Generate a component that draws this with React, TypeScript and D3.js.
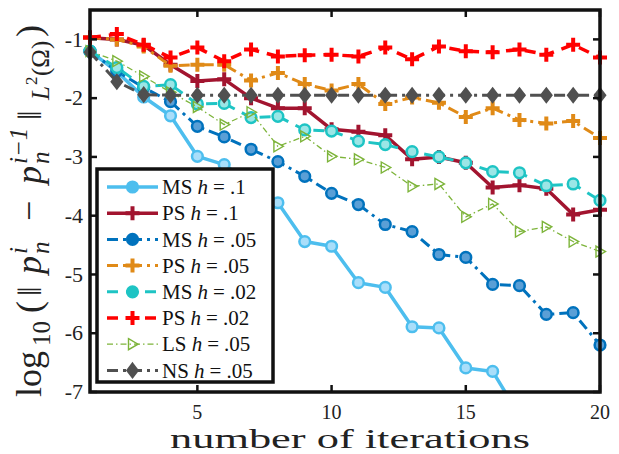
import { useRef, useEffect } from "react";
import * as d3 from "d3";

const iterations = [1, 2, 3, 4, 5, 6, 7, 8, 9, 10, 11, 12, 13, 14, 15, 16, 17, 18, 19, 20];

const msH1 = [-1.2, -1.55, -1.98, -2.3, -2.99, -3.13, -3.45, -3.78, -4.44, -4.52, -5.14, -5.22, -5.89, -5.91, -6.59, -6.65, -7.4];
const psH1 = [-0.97, -1.0, -1.1, -1.43, -1.71, -1.68, -2.0, -2.17, -2.17, -2.53, -2.57, -2.63, -3.04, -3.0, -3.1, -3.52, -3.48, -3.54, -3.98, -3.9];
const msH05 = [-1.2, -1.54, -1.82, -2.06, -2.48, -2.66, -2.87, -3.08, -3.33, -3.62, -3.81, -4.15, -4.27, -4.66, -4.71, -5.17, -5.19, -5.68, -5.65, -6.2];
const psH05 = [-0.97, -1.0, -1.12, -1.45, -1.43, -1.43, -1.7, -1.57, -1.76, -1.87, -1.76, -2.1, -1.99, -2.08, -2.32, -2.17, -2.37, -2.43, -2.39, -2.68];
const msH02 = [-1.2, -1.48, -1.8, -1.77, -2.1, -2.09, -2.33, -2.31, -2.54, -2.56, -2.73, -2.79, -2.91, -3.0, -3.1, -3.25, -3.27, -3.49, -3.46, -3.74];
const psH02 = [-0.97, -0.91, -1.09, -1.31, -1.14, -1.37, -1.17, -1.29, -1.27, -1.26, -1.29, -1.14, -1.34, -1.12, -1.2, -1.22, -1.17, -1.26, -1.09, -1.31];
const lsH05 = [-1.2, -1.37, -1.63, -1.9, -2.15, -2.45, -2.24, -2.82, -2.65, -2.99, -3.04, -3.18, -3.5, -3.46, -4.02, -3.8, -4.27, -4.19, -4.44, -4.61];
const nsH05 = [-1.22, -1.72, -1.94, -1.95, -1.95, -1.95, -1.95, -1.95, -1.95, -1.95, -1.95, -1.95, -1.95, -1.95, -1.95, -1.95, -1.95, -1.95, -1.95, -1.95];

const methodNames = ["MS", "PS", "MS", "PS", "MS", "PS", "LS", "NS"];
const stepSizes = [".1", ".1", ".05", ".05", ".02", ".02", ".05", ".05"];
const seriesValues = [msH1, psH1, msH05, psH05, msH02, psH02, lsH05, nsH05];

const xTicks = [5, 10, 15, 20];
const yTicks = [-1, -2, -3, -4, -5, -6, -7];

// line styles, same order as the series
const styles = [
  { color: "#4DBEEE", width: 3.5, dash: null, marker: "circle", fill: "#a9defa" },
  { color: "#A2142F", width: 3.5, dash: null, marker: "plus", fill: "none" },
  { color: "#0072BD", width: 3, dash: "11,5,3,5", marker: "circle", fill: "#5a9fd6" },
  { color: "#E08A17", width: 3, dash: "11,5,3,5", marker: "plus", fill: "none" },
  { color: "#1EC4C4", width: 3, dash: "11,8", marker: "circle", fill: "#9be6e6" },
  { color: "#FF0000", width: 3.5, dash: "11,8", marker: "plus", fill: "none" },
  { color: "#7DB43A", width: 1.3, dash: "6,3,1.5,3", marker: "triangle", fill: "none" },
  { color: "#505050", width: 3, dash: "11,5,3,5", marker: "diamond", fill: "#505050" },
];

const markerPath: Record<string, string> = {
  circle: d3.symbol(d3.symbolCircle, 90)() ?? "",
  plus: "M-7,0H7M0,-7V7",
  triangle: "M-4,-5.5L5.5,0L-4,5.5Z",
  diamond: "M0,-6.5L5,0L0,6.5L-5,0Z",
};

// pieces of the rotated y label: text, start (screen y), size, shift toward subscript side, italic
const yLabelParts: [string, number, number, number, boolean][] = [
  ["log", 397, 36, 0, false],
  ["10", 346, 25, 9, false],
  ["(", 313, 36, 0, false],
  ["\u2016", 296, 34, 0, false],
  ["p", 274, 36, 0, true],
  ["i", 254, 25, -14, true],
  ["n", 254, 25, 8, true],
  ["\u2212", 221, 36, 0, false],
  ["p", 184, 36, 0, true],
  ["i\u22121", 164, 25, -14, true],
  ["n", 164, 25, 8, true],
  ["\u2016", 120, 34, 0, false],
  ["L", 100, 25, 8, true],
  ["2", 85, 17, -4, false],
  ["(\u03a9)", 76, 25, 8, false],
  [")", 37, 36, 0, false],
];

const W = 619;
const H = 454;

export default function App() {
  const svgRef = useRef<SVGSVGElement>(null);

  useEffect(() => {
    if (!svgRef.current) return;
    document.body.style.margin = "0";
    const svg = d3.select(svgRef.current);
    svg.selectAll("*").remove();

    const left = 90, right = 600, top = 10, bottom = 392;
    const x = d3.scaleLinear().domain([1, 20]).range([left, right]);
    const y = d3.scaleLinear().domain([-7, -0.5]).range([bottom, top]);

    svg.append("rect").attr("width", W).attr("height", H).attr("fill", "#fff");

    svg.append("defs").append("clipPath").attr("id", "plot-clip")
      .append("rect").attr("x", left).attr("y", top)
      .attr("width", right - left).attr("height", bottom - top);

    const line = d3.line<[number, number]>().x((d) => x(d[0])).y((d) => y(d[1]));

    const markerWidth = (m: string) => (m === "plus" ? 4 : m === "triangle" ? 1.4 : 2.5);

    // Series
    seriesValues.forEach((vals, k) => {
      const st = styles[k];
      const pts = vals.map((v, i) => [iterations[i], v] as [number, number]);
      const g = svg.append("g");
      g.append("path")
        .attr("d", line(pts))
        .attr("fill", "none")
        .attr("stroke", st.color)
        .attr("stroke-width", st.width)
        .attr("stroke-dasharray", st.dash)
        .attr("stroke-linejoin", "round")
        .attr("clip-path", "url(#plot-clip)");
      g.selectAll(null)
        .data(pts.filter((d) => d[1] >= -7))
        .join("path")
        .attr("transform", (d) => `translate(${x(d[0])},${y(d[1])})`)
        .attr("d", markerPath[st.marker])
        .attr("fill", st.fill)
        .attr("stroke", st.color)
        .attr("stroke-width", markerWidth(st.marker));
    });

    // Axes box and ticks
    const axisG = svg.append("g").attr("stroke", "#111");
    xTicks.forEach((t) => {
      axisG.append("line").attr("x1", x(t)).attr("x2", x(t)).attr("y1", bottom).attr("y2", bottom - 7).attr("stroke-width", 2.5);
      axisG.append("line").attr("x1", x(t)).attr("x2", x(t)).attr("y1", top).attr("y2", top + 7).attr("stroke-width", 2.5);
    });
    yTicks.forEach((t) => {
      axisG.append("line").attr("x1", left).attr("x2", left + 7).attr("y1", y(t)).attr("y2", y(t)).attr("stroke-width", 2.5);
      axisG.append("line").attr("x1", right).attr("x2", right - 7).attr("y1", y(t)).attr("y2", y(t)).attr("stroke-width", 2.5);
    });
    axisG.append("rect")
      .attr("x", left).attr("y", top)
      .attr("width", right - left).attr("height", bottom - top)
      .attr("fill", "none").attr("stroke-width", 3.5);

    const serif = "'Liberation Serif', 'Times New Roman', serif";

    svg.append("g").selectAll("text").data(xTicks).join("text")
      .attr("x", (d) => x(d)).attr("y", 419)
      .attr("text-anchor", "middle")
      .attr("font-family", serif).attr("font-size", 20).attr("fill", "#222")
      .text((d) => String(d));

    svg.append("g").selectAll("text").data(yTicks).join("text")
      .attr("x", 83).attr("y", (d) => y(d))
      .attr("dy", "0.33em")
      .attr("text-anchor", "end")
      .attr("font-family", serif).attr("font-size", 22).attr("fill", "#222")
      .text((d) => String(d));

    // X label
    svg.append("text")
      .attr("x", 350).attr("y", 447.5)
      .attr("text-anchor", "middle")
      .attr("font-family", serif).attr("font-size", 28)
      .attr("textLength", 360).attr("lengthAdjust", "spacingAndGlyphs")
      .attr("fill", "#222")
      .text("number of iterations");

    // Y label, rotated; each piece placed along the axis
    const yl = svg.append("g").attr("transform", "translate(41,0) rotate(-90)")
      .attr("font-family", serif).attr("fill", "#222");
    yLabelParts.forEach(([txt, start, size, shift, italic]) => {
      yl.append("text")
        .attr("x", -start).attr("y", shift)
        .attr("font-size", size)
        .attr("font-style", italic ? "italic" : "normal")
        .text(txt);
    });

    // Legend
    const lg = svg.append("g");
    const lx = 97, ly = 169, lw = 176, lh = 213;
    lg.append("rect").attr("x", lx).attr("y", ly).attr("width", lw).attr("height", lh)
      .attr("fill", "#fff").attr("stroke", "#111").attr("stroke-width", 3.5);
    methodNames.forEach((name, k) => {
      const st = styles[k];
      const cy = 187 + k * 26.2;
      const row = lg.append("g");
      row.append("line").attr("x1", 107).attr("x2", 158).attr("y1", cy).attr("y2", cy)
        .attr("stroke", st.color).attr("stroke-width", st.width)
        .attr("stroke-dasharray", st.dash);
      row.append("path")
        .attr("transform", `translate(132.5,${cy})`)
        .attr("d", markerPath[st.marker])
        .attr("fill", st.marker === "circle" ? st.color : st.fill)
        .attr("stroke", st.color)
        .attr("stroke-width", markerWidth(st.marker));
      const t = row.append("text").attr("x", 162).attr("y", cy).attr("dy", "0.34em")
        .attr("font-family", serif).attr("font-size", 21).attr("fill", "#111");
      t.append("tspan").text(name + " ");
      t.append("tspan").attr("font-style", "italic").text("h");
      t.append("tspan").attr("dx", 5).text("=");
      t.append("tspan").attr("dx", 5).text(stepSizes[k]);
    });
  }, []);

  return <svg ref={svgRef} width={W} height={H} style={{ display: "block" }} />;
}
